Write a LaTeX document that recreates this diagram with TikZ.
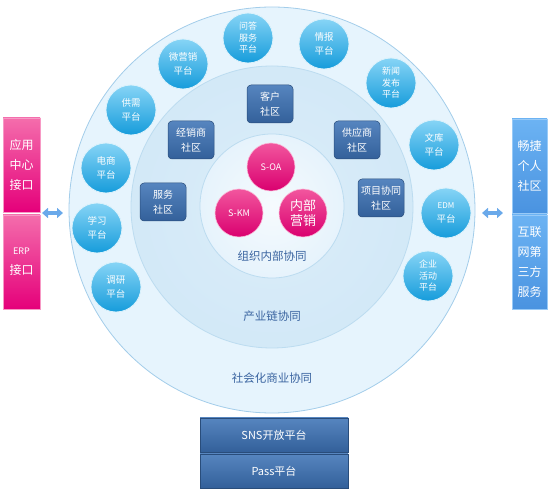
\documentclass[tikz,border=0pt]{standalone}
\usepackage{fontspec}
\setmainfont{Noto Sans CJK SC}
\usetikzlibrary{arrows.meta}
\definecolor{ringdraw}{HTML}{A3CDEA}
\definecolor{ringdrawlight}{HTML}{BCDCF0}
\definecolor{outerfill}{HTML}{E6F4FD}
\definecolor{midfill}{HTML}{D5EAF8}
\definecolor{innerfill}{HTML}{E8F4FC}
\definecolor{bluetop}{HTML}{86D4F6}
\definecolor{bluebot}{HTML}{169CDB}
\definecolor{pinktop}{HTML}{F2569E}
\definecolor{pinkbot}{HTML}{DA006F}
\definecolor{darktop}{HTML}{5685BF}
\definecolor{darkbot}{HTML}{33609A}
\definecolor{lboxtop}{HTML}{F46DAC}
\definecolor{lboxbot}{HTML}{E5007A}
\definecolor{rboxtop}{HTML}{6CB3F3}
\definecolor{rboxbot}{HTML}{4A93E0}
\definecolor{labelblue}{HTML}{3A64A0}
\definecolor{arrowblue}{HTML}{6AA9EA}
\tikzset{
  ring/.style={circle, draw=ringdraw, line width=0.8pt},
  plat/.style={circle, minimum size=50pt, inner sep=0pt, top color=bluetop, bottom color=bluebot, draw=white!70!bluetop, line width=0.8pt, text=white, align=center, font=\fontsize{9.5}{13.5}\selectfont},
  plat3/.style={plat, font=\fontsize{9}{11.5}\selectfont},
  core/.style={circle, minimum size=48pt, inner sep=0pt, top color=pinktop, bottom color=pinkbot, draw=white!60!pinktop, line width=0.6pt, text=white, align=center, font=\fontsize{9}{13}\selectfont},
  comm/.style={rounded corners=4pt, minimum width=46pt, minimum height=38pt, inner sep=0pt, top color=darktop, bottom color=darkbot, draw=darkbot!80!black, line width=0.5pt, text=white, align=center, font=\fontsize{10}{15}\selectfont},
  lbox/.style={minimum width=37pt, minimum height=94pt, inner sep=0pt, top color=lboxtop, bottom color=lboxbot, draw=lboxtop!70!white, line width=0.5pt, text=white, align=center, font=\fontsize{12}{20}\selectfont},
  rbox/.style={lbox, minimum width=35pt, top color=rboxtop, bottom color=rboxbot, draw=rboxtop!70!white},
  bbox/.style={minimum width=148pt, minimum height=34pt, inner sep=0pt, top color=darktop, bottom color=darkbot, draw=darkbot!80!black, line width=0.5pt, text=white, font=\fontsize{11}{13}\selectfont},
  ringlabel/.style={text=labelblue, font=\fontsize{11.5}{13}\selectfont},
  dblarrow/.style={draw=arrowblue, line width=3.5pt, {Triangle[width=10pt,length=6pt]}-{Triangle[width=10pt,length=6pt]}, shorten <=1pt, shorten >=1pt}
}
\begin{document}
\begin{tikzpicture}[x=1pt,y=-1pt]
\useasboundingbox (0,0) rectangle (550,492);
% rings
\node[ring, fill=outerfill, minimum size=406pt] (outer) at (272,210) {};
\node[ring, draw=ringdrawlight, inner color=midfill!85!white, outer color=midfill!95!ringdraw, minimum size=282pt] (mid) at (272,207) {};
\node[ring, draw=ringdrawlight, inner color=white!60!innerfill, outer color=innerfill!90!midfill, minimum size=144pt] (inner) at (272,206) {};
% ring labels
\node[ringlabel] (l1) at (272,256) {组织内部协同};
\node[ringlabel] (l2) at (272,316) {产业链协同};
\node[ringlabel] (l3) at (272,378) {社会化商业协同};
% core
\node[core] (soa) at (271,167) {S-OA};
\node[core] (skm) at (239,213) {S-KM};
\node[core, font=\fontsize{13}{15}\selectfont] (nbyx) at (303,213) {内部\\营销};
% communities
\node[comm] (kh) at (270,104) {客户\\社区};
\node[comm] (jxs) at (191,140) {经销商\\社区};
\node[comm] (fw) at (163,202) {服务\\社区};
\node[comm] (gys) at (357,140) {供应商\\社区};
\node[comm] (xm) at (381,198) {项目协同\\社区};
% platforms
\node[plat3] (wd) at (248,38) {问答\\服务\\平台};
\node[plat] (wyx) at (183,64) {微营销\\平台};
\node[plat] (gx) at (131,110) {供需\\平台};
\node[plat] (ds) at (106,168) {电商\\平台};
\node[plat] (xx) at (97,228) {学习\\平台};
\node[plat] (dy) at (116,287) {调研\\平台};
\node[plat] (qb) at (324,44) {情报\\平台};
\node[plat3] (xw) at (391,83) {新闻\\发布\\平台};
\node[plat] (wk) at (434,145) {文库\\平台};
\node[plat] (edm) at (446,213) {{\fontsize{8}{8}\selectfont EDM}\\平台};
\node[plat3] (qy) at (428,276) {企业\\活动\\平台};
% side boxes
\node[lbox] (yy) at (21.5,165) {应用\\中心\\接口};
\node[lbox] (erp) at (21.5,262) {{\fontsize{9}{9}\selectfont ERP}\\接口};
\node[rbox] (cj) at (529.5,166) {畅捷\\个人\\社区};
\node[rbox] (hl) at (529.5,262) {互联\\网第\\三方\\服务};
% bottom boxes
\node[bbox] (sns) at (274,435) {SNS开放平台};
\node[bbox] (pass) at (274,471) {Pass平台};
% arrows
\coordinate (la) at (41,213);
\coordinate (lb) at (64,213);
\coordinate (ra) at (481,213);
\coordinate (rb) at (504,213);
\draw[dblarrow] (la) -- (lb);
\draw[dblarrow] (ra) -- (rb);
\end{tikzpicture}
\end{document}
